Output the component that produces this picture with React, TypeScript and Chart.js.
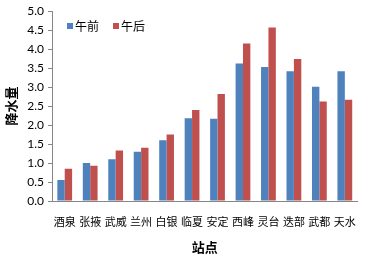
import React, { useEffect, useRef } from "react";
import { Chart, registerables } from "chart.js";

Chart.register(...registerables);

const categories = ["酒泉", "张掖", "武威", "兰州", "白银", "临夏", "安定", "西峰", "灵台", "迭部", "武都", "天水"];
const morning = [0.55, 1.0, 1.1, 1.3, 1.6, 2.18, 2.17, 3.62, 3.53, 3.42, 3.01, 3.42];
const afternoon = [0.85, 0.93, 1.33, 1.4, 1.75, 2.4, 2.82, 4.15, 4.57, 3.74, 2.62, 2.67];
const seriesNames = ["午前", "午后"];
const seriesColors = ["#4F81BD", "#C0504D"];

const CJK = '"Noto Sans CJK SC", sans-serif';
const NUM = 'Lato, "Noto Sans", sans-serif';

const insideLegend = {
  id: "insideLegend",
  afterDraw(chart: any) {
    const ctx = chart.ctx;
    const area = chart.chartArea;
    ctx.save();
    ctx.font = `12px ${CJK}`;
    ctx.textBaseline = "middle";
    ctx.textAlign = "left";
    let x = area.left + 15;
    const y = 26;
    chart.data.datasets.forEach((ds: any) => {
      ctx.fillStyle = ds.backgroundColor;
      ctx.fillRect(x, y - 3, 6, 6);
      ctx.fillStyle = "#000";
      ctx.fillText(ds.label, x + 8, y);
      x += 46;
    });
    ctx.restore();
  },
};

export default function App() {
  const ref = useRef<HTMLCanvasElement | null>(null);
  useEffect(() => {
    if (!ref.current) return;
    const chart = new Chart(ref.current, {
      type: "bar",
      data: {
        labels: categories,
        datasets: [
          { label: seriesNames[0], data: morning, backgroundColor: seriesColors[0] },
          { label: seriesNames[1], data: afternoon, backgroundColor: seriesColors[1] },
        ],
      },
      plugins: [insideLegend],
      options: {
        animation: false,
        responsive: false,
        maintainAspectRatio: false,
        layout: { padding: { left: 0, right: 4, top: 8, bottom: 0 } },
        plugins: { legend: { display: false }, tooltip: { enabled: false } },
        datasets: { bar: { categoryPercentage: 0.58, barPercentage: 1 } },
        scales: {
          x: {
            grid: { display: true, drawOnChartArea: false, drawTicks: false },
            border: { display: true, color: "#868686" },
            ticks: { color: "#000", font: { family: CJK, size: 11 }, padding: 14, maxRotation: 0, autoSkip: false },
            title: { display: true, text: "站点", color: "#000", font: { family: CJK, size: 13, weight: "bold" }, padding: { top: 0, bottom: 1 } },
            afterFit: (s: any) => { s.height = 55; },
          },
          y: {
            min: 0,
            max: 5,
            grid: { display: true, drawOnChartArea: false, drawTicks: true, tickLength: 4, color: "#868686" },
            border: { display: true, color: "#868686" },
            ticks: { stepSize: 0.5, color: "#000", font: { family: NUM, size: 12 }, padding: 4, callback: (v: any) => Number(v).toFixed(1) },
            title: { display: true, text: "降水量", color: "#000", font: { family: CJK, size: 13, weight: "bold" }, padding: { top: 3, bottom: 0 } },
            afterFit: (s: any) => { s.width = 52; },
          },
        },
      },
    });
    return () => chart.destroy();
  }, []);
  return (
    <div style={{ position: "absolute", left: 0, top: 0, width: 370, height: 256, background: "#fff" }}>
      <canvas ref={ref} width={370} height={256} />
    </div>
  );
}
